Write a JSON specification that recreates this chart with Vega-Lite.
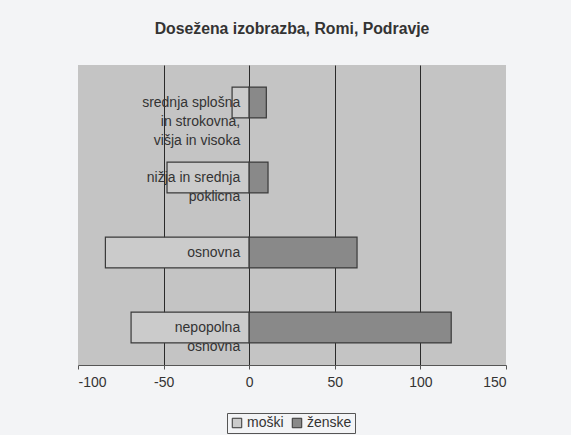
{
  "$schema": "https://vega.github.io/schema/vega-lite/v6.json",
  "width": 428,
  "height": 300,
  "autosize": {"type": "none"},
  "padding": {"left": 78, "top": 65, "right": 65, "bottom": 70},
  "background": "#f3f4f6",
  "title": {
    "text": "Dosežena izobrazba, Romi, Podravje",
    "fontSize": 15.8,
    "fontWeight": "bold",
    "color": "#333333",
    "offset": 27,
    "anchor": "middle"
  },
  "data": {
    "values": [
      {"stopnja": "srednja splošna\nin strokovna,\nvišja in visoka", "spol": "moški", "vrednost": -10},
      {"stopnja": "srednja splošna\nin strokovna,\nvišja in visoka", "spol": "ženske", "vrednost": 10},
      {"stopnja": "nižja in srednja\npoklicna", "spol": "moški", "vrednost": -48},
      {"stopnja": "nižja in srednja\npoklicna", "spol": "ženske", "vrednost": 11},
      {"stopnja": "osnovna", "spol": "moški", "vrednost": -84},
      {"stopnja": "osnovna", "spol": "ženske", "vrednost": 63},
      {"stopnja": "nepopolna\nosnovna", "spol": "moški", "vrednost": -69},
      {"stopnja": "nepopolna\nosnovna", "spol": "ženske", "vrednost": 118}
    ]
  },
  "encoding": {
    "y": {
      "field": "stopnja",
      "type": "nominal",
      "sort": ["srednja splošna\nin strokovna,\nvišja in visoka", "nižja in srednja\npoklicna", "osnovna", "nepopolna\nosnovna"],
      "scale": {"paddingInner": 0.59, "paddingOuter": 0.295},
      "axis": null
    }
  },
  "layer": [
    {
      "mark": {"type": "bar", "stroke": "#3a3a3a", "strokeWidth": 1.2},
      "encoding": {
        "x": {
          "field": "vrednost",
          "type": "quantitative",
          "stack": null,
          "scale": {"domain": [-100, 150], "nice": false},
          "axis": {
            "values": [-100, -50, 0, 50, 100, 150],
            "labelExpr": "replace(datum.label, '−', '-')",
            "title": null,
            "grid": true,
            "gridColor": "#2a2a2a",
            "gridOpacity": {"condition": {"test": "datum.value == -100 || datum.value == 150", "value": 0}, "value": 1},
            "domainColor": "#555555",
            "tickColor": "#555555",
            "tickSize": 4,
            "labelFontSize": 14,
            "labelColor": "#333333",
            "labelPadding": 6
          }
        },
        "color": {
          "field": "spol",
          "type": "nominal",
          "scale": {"domain": ["moški", "ženske"], "range": ["#cbcbcb", "#898989"]},
          "legend": {
            "orient": "none",
            "legendX": 149,
            "legendY": 348,
            "direction": "horizontal",
            "title": null,
            "strokeColor": "#555555",
            "padding": 3,
            "symbolType": "square",
            "symbolSize": 90,
            "symbolStrokeColor": "#333333",
            "symbolStrokeWidth": 1,
            "labelFontSize": 14,
            "labelColor": "#333333",
            "labelOffset": 3,
            "columnPadding": 6,
            "fillColor": "#f3f4f6"
          }
        }
      }
    },
    {
      "transform": [{"filter": "datum.spol === 'moški'"}],
      "mark": {"type": "text", "align": "right", "baseline": "middle", "dx": -9, "lineBreak": "\n", "fontSize": 14, "color": "#333333", "lineHeight": 19},
      "encoding": {
        "x": {"datum": 0},
        "text": {"field": "stopnja"}
      }
    }
  ],
  "config": {
    "font": "Liberation Sans",
    "view": {"fill": "#c4c4c4", "stroke": null}
  }
}
